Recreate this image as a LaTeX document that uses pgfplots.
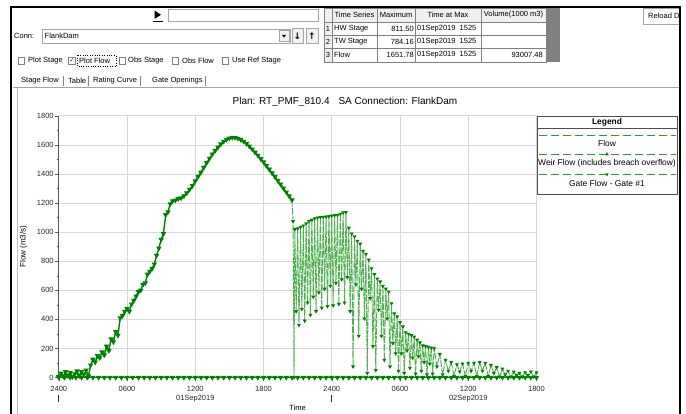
\documentclass[border=0pt]{standalone}
\usepackage{fontspec}
\setmainfont{Liberation Sans}
\newfontfamily\symfont{DejaVu Sans}
\usepackage{pgfplots}
\usepackage{pgfplotstable}
\pgfplotsset{compat=1.18}

\definecolor{flowgreen}{RGB}{0,128,0}
\definecolor{oscgreen}{RGB}{80,175,80}
\definecolor{leggreen}{RGB}{40,155,40}
\definecolor{gridgray}{RGB}{215,215,215}
\definecolor{axisgray}{RGB}{90,90,90}
\definecolor{uiline}{RGB}{165,165,165}
\definecolor{uihead}{RGB}{240,240,240}
\definecolor{uidark}{RGB}{128,128,128}

\newcommand{\uifont}{\fontsize{7.5}{8}\selectfont}
\newcommand{\legfont}{\fontsize{8.4}{9}\selectfont}

% weir flow over the embankment before the breach (hours from 2400 31Aug2019, m3/s)
\pgfplotstableread{
h v
0.0 5
0.2 30
0.4 8
0.6 40
0.8 12
1.0 35
1.2 5
1.4 25
1.6 45
1.8 12
2.0 40
2.2 20
2.4 50
2.6 10
2.8 85
3.0 125
3.2 105
3.4 150
3.6 135
3.8 175
4.0 155
4.2 215
4.4 185
4.6 265
4.8 245
5.0 315
5.2 290
5.4 410
5.6 425
5.8 455
6.0 475
6.2 455
6.4 505
6.6 530
6.8 560
7.0 590
7.2 600
7.4 640
7.6 650
7.8 710
8.0 730
8.2 750
8.4 780
8.6 840
8.8 890
9.0 950
9.2 990
9.4 1120
9.6 1140
9.8 1195
10.0 1215
10.25 1220
10.5 1230
10.75 1235
11.0 1250
11.25 1270
11.5 1295
11.75 1320
12.0 1352
12.25 1383
12.5 1413
12.75 1445
13.0 1478
13.25 1508
13.5 1537
13.75 1562
14.0 1585
14.25 1607
14.5 1625
14.75 1638
15.0 1647
15.25 1652
15.5 1651
15.75 1646
16.0 1637
16.25 1625
16.5 1610
16.75 1592
17.0 1572
17.25 1551
17.5 1529
17.75 1506
18.0 1483
18.25 1458
18.5 1433
18.75 1408
19.0 1382
19.25 1356
19.5 1330
19.75 1303
20.0 1276
20.25 1249
20.5 1222
}\weirrise

% oscillating flow after the breach
\pgfplotstableread{
h v
20.50 1222
20.60 1075
20.68 0
20.75 1020
20.87 455
21.00 1025
21.12 360
21.25 1035
21.37 470
21.50 1045
21.62 390
21.75 1060
21.87 515
22.00 1075
22.12 430
22.25 1085
22.37 555
22.50 1095
22.62 455
22.75 1100
22.87 585
23.00 1103
23.12 480
23.25 1105
23.37 610
23.50 1107
23.62 490
23.75 1110
23.87 630
24.00 1113
24.12 495
24.25 1116
24.37 650
24.50 1118
24.62 505
24.75 1126
24.87 675
25.00 1135
25.12 515
25.25 1138
25.37 690
25.50 1030
25.62 455
25.75 990
25.87 75
26.00 970
26.12 640
26.25 940
26.37 285
26.50 920
26.62 610
26.75 870
26.87 405
27.00 850
27.12 30
27.25 810
27.37 545
27.50 750
27.62 215
27.75 710
27.87 50
28.00 680
28.12 465
28.25 660
28.37 285
28.50 630
28.62 120
28.75 610
28.87 405
29.00 590
29.12 75
29.25 510
29.37 235
29.50 440
29.62 165
29.75 420
29.87 45
30.00 380
30.12 165
30.25 350
30.37 30
30.50 310
30.62 185
30.75 300
30.87 65
31.00 290
31.12 135
31.25 280
31.37 25
31.50 260
31.62 145
31.75 240
31.87 45
32.00 220
32.12 105
32.25 215
32.37 20
32.50 210
32.62 95
32.75 205
32.87 25
33.00 200
33.25 75
33.50 160
33.75 20
34.00 120
34.25 45
34.50 105
34.75 10
35.00 90
35.25 40
35.50 95
35.75 10
36.00 100
36.25 45
36.50 100
36.75 10
37.00 105
37.25 45
37.50 100
37.75 10
38.00 85
38.25 30
38.50 70
38.75 5
39.00 60
39.25 20
39.50 45
39.75 5
40.00 40
40.25 15
40.50 30
40.75 5
41.00 35
41.25 15
41.50 40
41.75 5
42.00 35
}\weirosc

\begin{document}
\begin{tikzpicture}
\useasboundingbox (0pt,0pt) rectangle (686pt,414pt);
\fill[white] (0pt,0pt) rectangle (686pt,414pt);

\begin{axis}[
  at={(58.8pt,36.5pt)}, anchor=origin,
  scale only axis, width=477.7pt, height=261.5pt,
  xmin=0, xmax=42, ymin=0, ymax=1800,
  axis lines*=left,
  axis line style={axisgray, line width=0.6pt},
  xtick={0,6,12,18,24,30,36,42},
  xticklabels={{2400\\[2pt]\rule{0.6pt}{7pt}}, 0600, {1200\\01Sep2019}, 1800, {2400\\[2pt]\rule{0.6pt}{7pt}}, 0600, {1200\\02Sep2019}, 1800},
  minor x tick num=5,
  ytick={0,200,...,1800},
  minor y tick num=1,
  grid=major,
  major grid style={gridgray, line width=1pt},
  tick align=outside,
  major tick length=3.5pt, minor tick length=2pt,
  tick style={axisgray, line width=0.5pt},
  tick label style={font=\fontsize{7.5}{9}\selectfont, text=black!85},
  xticklabel style={align=center, inner sep=1pt, yshift=-4pt},
  yticklabel style={inner sep=1.5pt},
  /pgf/number format/assume math mode=true,
  /pgf/number format/1000 sep={},
  xlabel={Time}, ylabel={Flow (m3/s)},
  xlabel style={at={(axis description cs:0.5,-0.1166)}, anchor=center, font=\fontsize{7.5}{9}\selectfont},
  ylabel style={at={(axis description cs:-0.074,0.5)}, anchor=center, font=\fontsize{8}{9}\selectfont},
  clip=false,
]
\addplot[oscgreen, line width=0.9pt, dash pattern=on 7pt off 1.2pt,
  mark=triangle*, mark size=1.4pt,
  mark options={solid, rotate=180, fill=flowgreen, draw=flowgreen}] table {\weirosc};
\addplot[flowgreen, line width=1.4pt, mark=triangle*, mark size=1.8pt,
  mark options={solid, rotate=180, fill=flowgreen}] table {\weirrise};
% gate flow stays closed for the whole event
\addplot[flowgreen, line width=1.6pt, mark=triangle*, mark size=1.6pt,
  mark options={solid, rotate=180, fill=flowgreen}] coordinates {
(0,0) (0.5,0) (1,0) (1.5,0) (2,0) (2.5,0) (3,0) (3.5,0) (4,0) (4.5,0)
(5,0) (5.5,0) (6,0) (6.5,0) (7,0) (7.5,0) (8,0) (8.5,0) (9,0) (9.5,0)
(10,0) (10.5,0) (11,0) (11.5,0) (12,0) (12.5,0) (13,0) (13.5,0) (14,0) (14.5,0)
(15,0) (15.5,0) (16,0) (16.5,0) (17,0) (17.5,0) (18,0) (18.5,0) (19,0) (19.5,0)
(20,0) (20.5,0) (21,0) (21.5,0) (22,0) (22.5,0) (23,0) (23.5,0) (24,0) (24.5,0)
(25,0) (25.5,0) (26,0) (26.5,0) (27,0) (27.5,0) (28,0) (28.5,0) (29,0) (29.5,0)
(30,0) (30.5,0) (31,0) (31.5,0) (32,0) (32.5,0) (33,0) (33.5,0) (34,0) (34.5,0)
(35,0) (35.5,0) (36,0) (36.5,0) (37,0) (37.5,0) (38,0) (38.5,0) (39,0) (39.5,0)
(40,0) (40.5,0) (41,0) (41.5,0) (42,0)};
\end{axis}

% window widgets, laid out in pixel units with y running downwards
\begin{scope}[x=1pt, y=-1pt, yshift=414pt, every node/.style={font=\uifont, inner sep=0pt}]
  % plot title
  \node at (345,101.5) {\fontsize{10}{12}\selectfont Plan: RT\_PMF\_810.4\hspace{9pt}SA Connection: FlankDam};

  % legend
  \draw[black!70, line width=0.7pt, fill=white] (537,116.5) rectangle (677,194.5);
  \node at (607,122.8) {\legfont\bfseries Legend};
  \draw[black!70, line width=0.6pt] (537,128.5) -- (677,128.5);
  \draw[leggreen, line width=1pt, dash pattern=on 8pt off 4pt] (539,135.5) -- (676,135.5);
  \node at (607,143.3) {\legfont Flow};
  \draw[leggreen, line width=1pt, dash pattern=on 8pt off 4pt] (539,154.2) -- (676,154.2);
  \fill[flowgreen] (605.3,155.3) -- (608.7,155.3) -- (607,152.2) -- cycle;
  \node at (607,163.8) {\legfont Weir Flow (includes breach overflow)};
  \draw[leggreen, line width=1pt, dash pattern=on 8pt off 4pt] (539,174.5) -- (676,174.5);
  \fill[flowgreen] (605.3,173.4) -- (608.7,173.4) -- (607,176.5) -- cycle;
  \node at (607,183.8) {\legfont Gate Flow - Gate \#1};

  % plot panel border
  \draw[uiline, line width=1.2pt] (13,87.6) -- (679,87.6);
  \draw[uiline!70, line width=0.6pt] (16.8,88.2) -- (16.8,414);

  % run button and progress field
  \fill[black] (154.5,10.5) -- (161,14.8) -- (154.5,19) -- cycle;
  \draw[black, line width=0.8pt] (153,21.2) -- (163,21.2);
  \draw[uiline, line width=0.6pt] (168,9.5) rectangle (318,21.5);

  % connection selector
  \node[anchor=west] at (14,36) {Conn:};
  \draw[uiline, line width=0.6pt] (42,29) rectangle (290,43);
  \node[anchor=west] at (44.5,36) {FlankDam};
  \draw[uiline, line width=0.5pt, fill=uihead] (279,30.5) rectangle (289,41.5);
  \fill[black] (281.8,34.8) -- (286.2,34.8) -- (284,37.6) -- cycle;
  \draw[uiline, line width=0.5pt, fill=uihead] (292,28.5) rectangle (303,43);
  \draw[uiline, line width=0.5pt, fill=uihead] (306,28.5) rectangle (318,43);
  \node at (297.5,36) {\symfont\bfseries\fontsize{9}{9}\selectfont ↓};
  \node at (312,36) {\symfont\bfseries\fontsize{9}{9}\selectfont ↑};

  % check boxes
  \foreach \cx in {18,68.5,119,172,222}
    \draw[uidark, line width=0.6pt, fill=white] (\cx,57.8) rectangle ++(6.5,6.5);
  \node at (71.8,61.1) {\symfont\fontsize{6}{6}\selectfont ✓};
  \node[anchor=west] at (28,61) {Plot Stage};
  \node[anchor=west] at (79,61) {Plot Flow};
  \draw[black, dotted, line width=0.4pt] (77.5,55.5) rectangle (116,66.5);
  \node[anchor=west] at (128,61) {Obs Stage};
  \node[anchor=west] at (182,61) {Obs Flow};
  \node[anchor=west] at (232,61) {Use Ref Stage};

  % tabs
  \node[anchor=west] at (21,81) {Stage Flow};
  \node[anchor=west] at (68,81) {Table};
  \node[anchor=west] at (93,81) {Rating Curve};
  \node[anchor=west] at (152,81) {Gate Openings};
  \foreach \tx in {63,88,140,205}
    \draw[uidark, line width=0.5pt] (\tx,76) -- (\tx,86);

  % summary table
  \fill[uihead] (324,8) rectangle (546,22);
  \fill[uihead] (324,22) rectangle (332,62);
  \fill[uidark] (546,8) rectangle (560,62);
  \draw[uidark, line width=0.5pt] (324,8) rectangle (546,62);
  \foreach \gx in {332,377,415,481}
    \draw[uidark, line width=0.5pt] (\gx,8) -- (\gx,62);
  \foreach \gy in {22,35,48}
    \draw[uidark, line width=0.5pt] (324,\gy) -- (546,\gy);
  \node at (354.5,15) {Time Series};
  \node at (396,15) {Maximum};
  \node at (448,15) {Time at Max};
  \node at (513.5,15) {Volume(1000 m3)};
  \node at (328,28.5) {1};
  \node at (328,41.5) {2};
  \node at (328,55) {3};
  \node[anchor=west] at (334,28.5) {HW Stage};
  \node[anchor=west] at (334,41.5) {TW Stage};
  \node[anchor=west] at (334,55) {Flow};
  \node[anchor=east] at (414,28.5) {811.50};
  \node[anchor=east] at (414,41.5) {784.16};
  \node[anchor=east] at (414,55) {1651.78};
  \node[anchor=west] at (417,28.5) {01Sep2019\ \ 1525};
  \node[anchor=west] at (417,41.5) {01Sep2019\ \ 1525};
  \node[anchor=west] at (417,55) {01Sep2019\ \ 1525};
  \node[anchor=east] at (543,55) {93007.48};

  % reload button
  \draw[uiline, line width=0.6pt] (679,8.5) -- (643.5,8.5) -- (643.5,24) -- (679,24);
  \node[anchor=west] at (648,16) {Reload D};

  % window frame
  \draw[black, line width=2pt] (11,414) -- (11,7) -- (680,7) -- (680,414);
\end{scope}
\end{tikzpicture}
\end{document}
